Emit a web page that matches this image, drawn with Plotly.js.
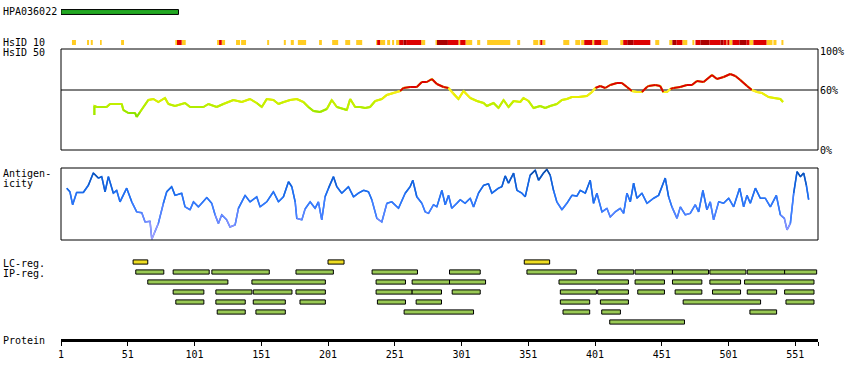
<!DOCTYPE html>
<html><head><meta charset="utf-8">
<script src="https://cdn.plot.ly/plotly-3.0.1.min.js"></script>
<style>html,body{margin:0;padding:0;background:#fff;}#chart{width:850px;height:380px;}</style>
</head><body><div id="chart"></div>
<script>
// ---------------- data ----------------
const proteinLength = 568;
const tickResidues = [1, 51, 101, 151, 201, 251, 301, 351, 401, 451, 501, 551];
const hpaName = 'HPA036022';
const hpaStart = [1];
const hpaEnd = [89];

const hsidStart = [9.2,20.5,23.3,30.2,46,86.6,87.9,91.4,117.9,119.4,121.4,132.1,135.9,155.4,167.9,173.1,178.4,194.3,204.1,213.9,222.1,237,237.8,240,245.3,249,252,254.3,257.5,259.5,270.8,281.5,282.6,290.8,298.7,300,304,312.7,320.2,342.7,354.7,359.2,360,361.5,377.2,386.2,390.6,392.9,398.9,400.4,405.6,419.9,422.1,425.1,429.6,446.1,456.6,458.9,461.9,466.4,473.9,476.2,479.9,486.6,494.9,497.1,499.4,500.1,501.6,503.9,509.1,514.3,516.6,519.6,529.4,534.6,540.6];
const hsidEnd   = [12.2,22,24.8,31.5,48.2,87.9,91.4,94.4,119.4,121.4,123.9,135.1,139.6,156.9,169.4,175.4,184.6,196.4,208.6,217.6,226.6,237.8,240,243.8,247.5,250.5,254.3,257.5,259.5,270.8,273.8,282.6,290.8,298.7,300,304,309,315,337.5,344.9,358.5,360,361.5,363.8,381.7,389.9,392.9,398.9,400.4,405.6,410.6,422.1,425.1,429.6,442.4,449.1,458.9,461.9,466.4,470.1,475.4,479.9,486.6,494.9,497.1,499.4,500.1,501.6,503.9,509.1,514.3,516.6,519.6,529.4,533.9,536.9,542.1];
const hsidLevel = ['Y','Y','Y','Y','Y','Y','R','Y','Y','R','Y','Y','Y','Y','Y','Y','Y','Y','Y','Y','Y','Y','R','Y','Y','Y','Y','R','D','R','Y','Y','D','R','Y','R','Y','Y','Y','Y','Y','Y','R','Y','Y','Y','Y','R','Y','R','Y','Y','R','D','R','Y','Y','D','R','Y','Y','R','D','R','D','R','Y','R','Y','R','D','R','Y','R','Y','Y','Y'];

const identityResidue = [26,26,27.7,35.2,37.7,46.5,47.7,51.5,56.5,57.7,60.2,66.4,70.2,73.9,78.9,81.4,86.4,93.9,97.7,107.7,111.4,117.6,122.6,130.1,136.4,142.6,147.6,151.4,155.1,160.1,163.9,167.6,172.6,177.6,182.6,186.3,190.1,195.1,200.1,203.8,207.6,212.6,215.1,217.6,221.3,225.1,228.8,232.5,236.3,241.3,245,250,255,257.5,262.5,267.5,271.3,275,278.8,282.5,287.5,291.2,295,298.7,302.5,307.5,312.5,317.5,320,325,328.7,332.5,336.2,340,345,347.4,351.2,354.9,359.9,363.7,367.4,372.4,376.2,379.9,383.7,388.7,394.9,398.7,401.2,404.9,408.6,412.4,417.4,421.1,424.9,428.6,432.4,436.1,439.9,441.1,446.1,449.8,452.1,454.9,457.4,459.8,464.8,469.8,473.6,477.3,482.3,488.6,492.3,497.3,502.3,506.1,509.8,514.8,518.5,522.3,526,531,534.8,539.8,541.8];
const identityValue   = [35,44,43,43,46,46,40,37,37,33,38,50,51,48,52,46,44,47,43,43,46,43,46,50,48,51,47,43,51,50,46,48,50,51,48,43,39,38,41,50,43,41,40,51,43,43,42,43,49,51,55,57,59,62,63,63,68,68,71,66,63,62,56,51,59,52,49,47,44,47,42,50,43,49,48,52,49,42,44,42,44,46,50,51,53,53,54,58,62,64,62,65,67,67,63,59,58,58,63,64,65,64,58,58,61,62,63,65,65,69,68,75,71,73,76,74,70,64,60,58,57,53,52,51,48];

const antigenResidue = [5.3,7.7,9.7,12.7,17.7,21.5,25.2,29,31.5,34,36.5,40.2,42.7,45.2,50.2,54,57.7,61.5,64,67.7,69,71.4,73.9,77.7,80.2,83.9,86.4,91.4,93.9,97.7,100.2,103.9,106.4,110.2,113.9,116.4,118.9,121.4,125.1,127.6,131.4,133.9,138.9,142.6,147.6,150.1,155.1,160.1,163.9,167.6,171.4,173.9,176.4,177.6,181.4,183.8,187.6,191.3,193.8,196.3,198.8,201.3,205.1,207.6,211.3,216.3,220.1,223.8,227.6,231.3,233.8,237.6,241.3,245.1,248.8,253.8,258.8,262.5,264.5,267.5,271.3,273.8,276.3,280,282.5,286.3,288.8,291.3,293.7,297.5,300,303.7,307.5,310,313.7,317.5,321.2,323.7,328.7,331.2,333.7,336.2,340,342.5,346.2,348.7,352.4,356.2,358.7,362.4,364.9,367.4,369.9,372.4,376.2,379.9,383.7,387.4,389.9,393.7,397.4,399.9,402.4,406.2,409.9,412.4,416.1,419.9,422.4,424.9,427.4,429.9,432.4,436.1,439.9,444.9,448.6,453.6,456.1,458.6,462.4,464.9,468.6,472.3,476.1,478.6,481.8,484.8,487.3,489.8,493.6,497.3,501.1,504.8,509.3,512.3,514.8,517.3,521.1,524.8,528.5,532.3,536.8,539.8,542.8,544.8,547.3,549.8,552.3,554.8,557.3,559.3,561];
const antigenValue   = [72,67,49,66,66,76,93,86,88,67,88,65,69,53,72,53,39,38,25,26,1,12,23,51,67,74,62,65,46,42,53,46,51,59,51,35,23,35,28,18,21,44,62,53,60,46,53,67,53,60,81,74,53,30,28,43,53,44,53,28,60,72,88,74,65,74,60,65,69,67,56,30,25,51,53,44,65,74,83,60,51,39,37,49,46,69,49,62,44,51,56,51,58,46,65,76,78,65,72,74,89,79,93,69,65,60,90,97,83,93,98,90,69,53,42,51,62,61,69,65,83,51,65,39,44,32,39,44,37,65,53,79,58,65,51,58,62,86,60,46,30,46,35,37,49,39,69,42,53,28,53,51,58,46,72,46,62,51,72,58,58,46,62,35,30,14,23,65,95,88,93,76,56];

const lcStart = [55, 201, 348];
const lcEnd   = [66, 213, 367];

const ipRow   = [1,1,1,1,1,1,1,1,1,1,1,1,1, 2,2,2,2,2,2,2,2,2,2, 3,3,3,3,3,3,3,3,3,3,3,3,3,3, 4,4,4,4,4,4,4,4,4,4, 5,5,5,5,5,5, 6];
const ipStart = [57,85,114,177,234,292,350,403,431,459,487,515,543, 66,144,237,264,292,374,431,459,487,513, 85,117,145,177,237,264,294,375,403,433,461,489,515,543, 87,117,145,180,238,267,375,405,467,544, 118,147,258,377,406,517, 412];
const ipEnd   = [78,112,157,205,268,315,387,430,459,486,514,543,567, 126,199,259,292,319,426,453,481,510,565, 108,144,174,199,264,286,315,402,426,453,481,510,537,565, 108,139,169,199,259,286,397,426,525,565, 139,169,310,397,420,537, 468];

// ---------------- helpers ----------------
const H = 380;
const py = p => 1 - p / H;            // pixel row -> paper y
const W = 850 - 61 - 32;
const px = p => (p - 61) / W;         // pixel column -> paper x
const FONT = 'DejaVu Sans Mono, monospace';

function lerpColor(stops, v) {
  if (v <= stops[0][0]) return stops[0][1];
  for (let i = 1; i < stops.length; i++) {
    if (v <= stops[i][0]) {
      const [v0, c0] = stops[i - 1], [v1, c1] = stops[i];
      const t = (v - v0) / (v1 - v0);
      return c0.map((c, k) => Math.round(c + (c1[k] - c) * t));
    }
  }
  return stops[stops.length - 1][1];
}
const rgb = c => `rgb(${c[0]},${c[1]},${c[2]})`;

function identityColor(v) {
  if (v > 60) return 'rgb(221,0,0)';
  return rgb(lerpColor([[33,[120,222,0]],[42,[170,236,0]],[48,[204,240,0]],[54,[236,238,0]],[60,[255,236,40]]], v));
}
function antigenColor(v) {
  return rgb(lerpColor([[0,[176,168,255]],[25,[127,140,255]],[45,[61,125,255]],[65,[31,111,240]],[80,[17,96,216]],[100,[8,70,150]]], v));
}

function coloredLine(xs, ys, colorFn, width, yaxis, baseColor) {
  const traces = [{type:'scatter', mode:'lines', x: xs, y: ys, yaxis, line:{color: baseColor, width}, hoverinfo:'skip'}];
  const groups = {};
  for (let i = 0; i < xs.length - 1; i++) {
    const c = colorFn(Math.round((ys[i] + ys[i + 1]) / 2));
    if (!groups[c]) groups[c] = {x: [], y: []};
    groups[c].x.push(xs[i], xs[i + 1], null);
    groups[c].y.push(ys[i], ys[i + 1], null);
  }
  for (const c in groups) {
    traces.push({type:'scatter', mode:'lines', x: groups[c].x, y: groups[c].y, yaxis, line:{color: c, width}, hoverinfo:'skip', connectgaps:false});
  }
  return traces;
}

function barTrace(starts, ends, rows, yaxis, color, thick, lineW) {
  return {
    type:'bar', orientation:'h', yaxis,
    base: starts, x: starts.map((s, i) => ends[i] - s), y: rows,
    width: thick, marker:{color, line:{color:'#000', width: lineW}}, hoverinfo:'skip'
  };
}

// ---------------- traces ----------------
const traces = [];
traces.push(barTrace(hpaStart, hpaEnd, [0], 'y5', '#22a822', 0.7, 1));

const hsidColors = {Y:'#ffcc22', R:'#dd0000', D:'#aa0000'};
['Y','R','D'].forEach(l => {
  const idx = hsidLevel.map((v, i) => v === l ? i : -1).filter(i => i >= 0);
  traces.push(barTrace(idx.map(i => hsidStart[i]), idx.map(i => hsidEnd[i]), idx.map(() => 0), 'y3', hsidColors[l], 1, 0));
});

traces.push(...coloredLine(identityResidue, identityValue, identityColor, 2, 'y', 'rgb(204,240,0)'));
traces.push(...coloredLine(antigenResidue, antigenValue, antigenColor, 1.5, 'y2', 'rgb(31,111,240)'));

traces.push(barTrace(lcStart, lcEnd, lcStart.map(() => 0), 'y4', '#eedd22', 0.42, 1));
traces.push(barTrace(ipStart, ipEnd, ipRow, 'y4', '#99c955', 0.42, 1));

// ---------------- layout ----------------
const hidden = {visible:false, fixedrange:true, showgrid:false, zeroline:false};
const lab = (text, xp, yp, anchor, size) => ({
  text, xref:'paper', yref:'paper', x: px(xp), y: py(yp), xanchor: anchor || 'left', yanchor:'middle',
  showarrow:false, font:{family: FONT, size: size || 10, color:'#000'}
});

const layout = {
  width: 850, height: 380,
  margin: {l: 61, r: 32, t: 0, b: 0, pad: 0},
  paper_bgcolor:'#fff', plot_bgcolor:'#fff',
  showlegend:false, barmode:'overlay', hovermode:false,
  xaxis: {
    domain:[0,1], range:[1, proteinLength], anchor:'free', position: py(339.5),
    showline:true, linewidth:3, linecolor:'#000',
    ticks:'outside', ticklen:4, tickwidth:1, tickcolor:'#000',
    tickmode:'array', tickvals: tickResidues.concat([proteinLength]), ticktext: tickResidues.map(String).concat(['']),
    tickfont:{family: FONT, size:10, color:'#000'},
    showgrid:false, zeroline:false, fixedrange:true
  },
  yaxis:  Object.assign({domain:[py(150), py(49)], range:[0, 101], anchor:'x'}, hidden),
  yaxis2: Object.assign({domain:[py(240), py(168)], range:[0, 100], anchor:'x'}, hidden),
  yaxis3: Object.assign({domain:[py(45), py(40)], range:[-0.5, 0.5], anchor:'x'}, hidden),
  yaxis4: Object.assign({domain:[py(327), py(257)], range:[6.5, -0.5], anchor:'x'}, hidden),
  yaxis5: Object.assign({domain:[py(15.5), py(8.5)], range:[-0.5, 0.5], anchor:'x'}, hidden),
  shapes: [
    {type:'rect', xref:'paper', yref:'y domain', x0:0, x1:1, y0:0, y1:1, line:{color:'#000', width:1}},
    {type:'line', xref:'paper', yref:'y', x0:0, x1:1, y0:60, y1:60, line:{color:'#000', width:1}, layer:'below'},
    {type:'rect', xref:'paper', yref:'y2 domain', x0:0, x1:1, y0:0, y1:1, line:{color:'#000', width:1}}
  ],
  annotations: [
    lab(hpaName, 1, 12),
    lab('HsID 10', 1, 42.5),
    lab('HsID 50', 1, 53),
    lab('Antigen-', 1, 173.5),
    lab('icity', 1, 183.5),
    lab('LC-reg.', 1, 263),
    lab('IP-reg.', 1, 273),
    lab('Protein', 1, 340),
    lab('100%', 818, 52),
    lab('60%', 818, 90.5),
    lab('0%', 818, 150)
  ]
};

Plotly.newPlot('chart', traces, layout, {staticPlot:true, displayModeBar:false});
</script>
</body></html>
